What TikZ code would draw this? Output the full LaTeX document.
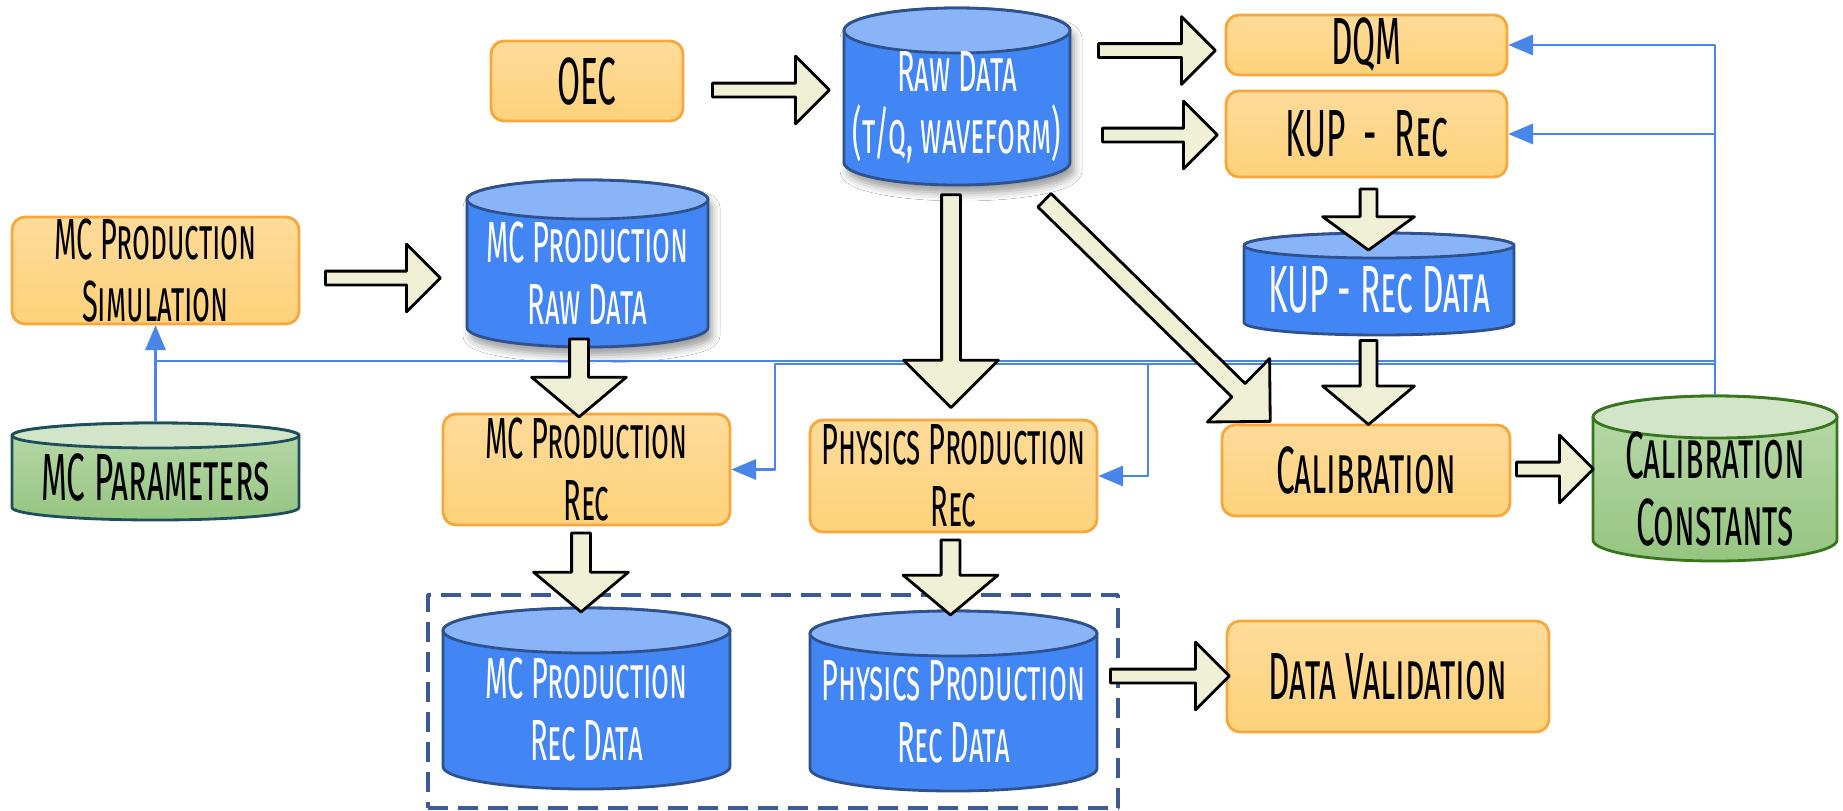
\documentclass[tikz,border=0pt]{standalone}
\usepackage{fontspec}
\setmainfont{Fira Sans}[FakeStretch=0.5]
\usetikzlibrary{arrows}
\usetikzlibrary{shapes.arrows}
\usetikzlibrary{shadows.blur}
\definecolor{boxline}{HTML}{F8A73B}
\definecolor{boxtop}{HTML}{FEDB9A}
\definecolor{boxbot}{HTML}{FED27B}
\definecolor{bluebody}{HTML}{4285F4}
\definecolor{bluetop}{HTML}{8AB4F8}
\definecolor{blueline}{HTML}{2F528F}
\definecolor{grbodytop}{HTML}{BADAAC}
\definecolor{grbodybot}{HTML}{96C580}
\definecolor{grtop}{HTML}{D2E5C9}
\definecolor{parline}{HTML}{1D4E5C}
\definecolor{ccline}{HTML}{38761D}
\definecolor{flow}{HTML}{4A86E8}
\definecolor{fatfill}{HTML}{F0F0D6}
\definecolor{grpline}{HTML}{3C5A96}

% #1 name, #2 x, #3 y, #4 width, #5 height, #6 half height of the lid, #7 kind, #8 size, #9 text
\newcommand{\datastore}[9]{%
  \path[#7 body] ({#2-#4/2},{#3-#5/2+#6}) -- ({#2-#4/2},{#3+#5/2-#6})
    arc[start angle=180, end angle=360, x radius=#4*0.05mm, y radius=#6*0.1mm]
    -- ({#2+#4/2},{#3-#5/2+#6})
    arc[start angle=0, end angle=180, x radius=#4*0.05mm, y radius=#6*0.1mm] -- cycle;
  \path[#7 top] (#2,{#3-#5/2+#6}) ellipse[x radius=#4*0.05mm, y radius=#6*0.1mm];
  \node[minimum width=#4*0.1mm, minimum height=#5*0.1mm, inner sep=0pt,
    label={[#7 label, #8, align=center, inner sep=0pt, yshift=-#6*0.05mm]center:{#9}}] (#1) at (#2,#3) {};
}

\begin{document}
\begin{tikzpicture}[line join=round,>=triangle 45,x=0.1mm,y=-0.1mm,
  proc/.style={rectangle, rounded corners=1.3mm, draw=boxline, line width=0.8pt,
    top color=boxtop, bottom color=boxbot, align=center, inner sep=0pt},
  blue body/.style={fill=bluebody, draw=blueline, line width=0.8pt},
  blue top/.style={fill=bluetop, draw=blueline, line width=0.8pt},
  blue label/.style={text=white},
  sblue body/.style={blue body, blur shadow={shadow xshift=0.4mm, shadow yshift=-0.8mm,
    shadow blur radius=0.8mm, shadow opacity=40}},
  sblue top/.style={blue top},
  sblue label/.style={blue label},
  par body/.style={top color=grbodytop, bottom color=grbodybot, draw=parline, line width=0.8pt},
  par top/.style={fill=grtop, draw=parline, line width=0.8pt},
  par label/.style={text=black},
  cc body/.style={par body, draw=ccline},
  cc top/.style={par top, draw=ccline},
  cc label/.style={par label},
  fat/.style={single arrow, draw=black, line width=0.8pt, fill=fatfill, inner xsep=0pt,
    inner ysep=0.55mm, single arrow head extend=2.7mm, single arrow tip angle=90},
  fatv/.style={fat, rotate=-90, inner ysep=0.8mm, single arrow head extend=3.8mm,
    single arrow tip angle=100},
  flowline/.style={flow, line width=0.6pt},
  big/.style={font=\fontsize{19}{19}\selectfont\scshape},
  mid/.style={font=\fontsize{16.5}{17.6}\selectfont\scshape}]
\useasboundingbox[fill=white] (0,0) rectangle (1843,810);

% steps
\node[proc, big, minimum width=19.2mm, minimum height=8mm] (oec) at (587,81) {OEC};
\node[proc, big, minimum width=28.1mm, minimum height=6mm] (dqm) at (1366.5,45) {DQM};
\node[proc, big, minimum width=28.1mm, minimum height=8.6mm] (kuprec) at (1366.5,134) {KUP\ \ -\ \ Rec};
\node[proc, mid, minimum width=28.7mm, minimum height=10.7mm] (mcsim) at (155.5,270.5) {MC Production\\Simulation};
\node[proc, mid, minimum width=28.7mm, minimum height=11.1mm] (mcrec) at (586.5,469.5) {MC Production\\Rec};
\node[proc, mid, minimum width=28.7mm, minimum height=11.2mm] (physrec) at (953.5,476) {Physics Production\\Rec};
\node[proc, big, minimum width=28.8mm, minimum height=9.1mm] (calib) at (1366,470.5) {Calibration};
\node[proc, big, minimum width=32.2mm, minimum height=11.1mm] (valid) at (1388,676.5) {Data Validation};

% data
\datastore{raw}{957}{96.5}{226}{177}{22.5}{sblue}{mid}{Raw Data\\(t/q, waveform)}
\datastore{mcraw}{587.5}{263.5}{241}{167}{19.5}{sblue}{mid}{MC Production\\Raw Data}
\datastore{kupdata}{1379}{284}{270}{102}{12.5}{blue}{big}{KUP - Rec Data}
\datastore{mcpar}{155.5}{471.5}{287}{97}{12.5}{par}{big}{MC Parameters}
\datastore{cc}{1715}{478.5}{244}{165}{21}{cc}{big}{Calibration\\Constants}
\node[draw=grpline, line width=1pt, dash pattern=on 2mm off 1mm, minimum width=69mm, minimum height=21.3mm] (grp) at (773,701.5) {};
\datastore{mcrecdata}{586.5}{698.5}{287}{181}{22.5}{blue}{mid}{MC Production\\Rec Data}
\datastore{physrecdata}{953.5}{701}{287}{180}{22.5}{blue}{mid}{Physics Production\\Rec Data}

% feedback of the constants
\coordinate (bus) at (1715,361);
\coordinate (bus2) at (1715,364);
\coordinate (mcturn) at (775,469.5);
\coordinate (physturn) at (1148,476);
\draw[flowline,->] (cc.north) |- (dqm.east);
\draw[flowline,->] (cc.north) |- (kuprec.east);
\draw[flowline,->] (bus) -| (mcsim.south);
\draw[flowline] (mcpar.north) -- (mcpar.north |- bus);
\draw[flowline,->] (bus2) -| (mcturn) -- (mcrec.east);
\draw[flowline,->] (bus2 -| physturn) -- (physturn) -- (physrec.east);

% big arrows
\node[fat, minimum height=11.7mm] (oec2raw) at (767.5,90) {};
\node[fat, minimum height=11.7mm] (raw2dqm) at (1153.5,50.5) {};
\node[fat, minimum height=11.5mm] (raw2kup) at (1156.5,135) {};
\node[fat, minimum height=11.5mm] (sim2mcraw) at (379.5,278) {};
\node[fat, minimum height=7.7mm] (calib2cc) at (1551.5,469) {};
\node[fat, minimum height=11.9mm] (grp2valid) at (1166.5,676) {};
\node[fatv, minimum height=21.3mm, single arrow tip angle=90] (raw2phys) at (951,296.5) {};
\node[fatv, minimum height=7.8mm] (mcraw2mcrec) at (579,374) {};
\node[fatv, minimum height=6.1mm, inner ysep=0.7mm, single arrow head extend=3.75mm, single arrow tip angle=108] (kup2kupdata) at (1368.5,216.5) {};
\node[fatv, minimum height=8.4mm, inner ysep=0.7mm, single arrow head extend=3.75mm] (kupdata2calib) at (1368.5,379) {};
\node[fatv, minimum height=7.9mm] (mcrec2data) at (581,568.5) {};
\node[fatv, minimum height=7.5mm] (phys2data) at (950.5,573.5) {};
\node[fat, rotate=-44.4, minimum height=31.6mm, inner ysep=0.8mm, single arrow head extend=3.5mm] (raw2calib) at (1154,307.5) {};
\end{tikzpicture}
\end{document}
